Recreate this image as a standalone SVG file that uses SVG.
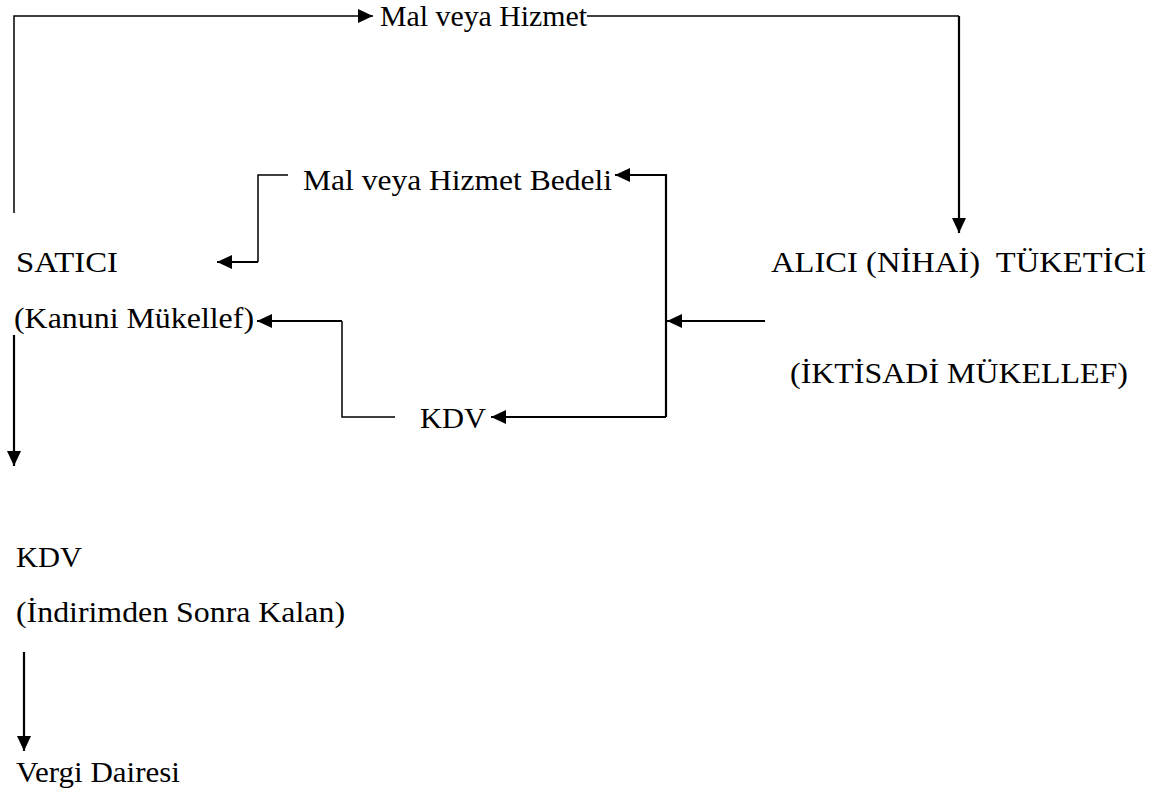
<svg xmlns="http://www.w3.org/2000/svg" width="1162" height="798" viewBox="0 0 1162 798">
<style>
text{font-family:"Liberation Serif","Times New Roman",Times,serif;font-size:30px;fill:#000;white-space:pre}
.l{fill:none;stroke:#000;stroke-width:2.2}
.t{fill:none;stroke:#000;stroke-width:1.5}
</style>
<defs>
<marker id="ah" markerUnits="userSpaceOnUse" markerWidth="17" markerHeight="15" refX="15" refY="7" orient="auto">
<path d="M0,0 L15,7 L0,14 Z" fill="#000"/>
</marker>
</defs>
<rect width="1162" height="798" fill="#fff"/>
<g id="connectors">
<path class="t" d="M14,213 V16 H373" marker-end="url(#ah)"/>
<path class="t" d="M587,16 H959"/>
<path class="l" d="M959,16 V233" marker-end="url(#ah)"/>
<path class="l" d="M765,321 H667" marker-end="url(#ah)"/>
<path class="l" d="M666,417 V175 H615" marker-end="url(#ah)"/>
<path class="l" d="M666,417 H491" marker-end="url(#ah)"/>
<path class="t" d="M288,175 H258 V262"/>
<path class="l" d="M258,262 H217" marker-end="url(#ah)"/>
<path class="t" d="M395,417 H342 V321"/>
<path class="l" d="M342,321 H257" marker-end="url(#ah)"/>
<path class="l" d="M14,335 V466" marker-end="url(#ah)"/>
<path class="l" d="M24,652 V751" marker-end="url(#ah)"/>
</g>
<g id="mal-hizmet"><text x="380" y="26" textLength="207" lengthAdjust="spacingAndGlyphs">Mal veya Hizmet</text></g>
<g id="bedel"><text x="303" y="190" textLength="309" lengthAdjust="spacingAndGlyphs">Mal veya Hizmet Bedeli</text></g>
<g id="satici"><text x="16" y="272" textLength="102" lengthAdjust="spacingAndGlyphs">SATICI</text><text x="14" y="328" textLength="240" lengthAdjust="spacingAndGlyphs">(Kanuni Mükellef)</text></g>
<g id="alici"><text x="771" y="272" textLength="375" lengthAdjust="spacingAndGlyphs">ALICI (NİHAİ)&#160; TÜKETİCİ</text><text x="790" y="383" textLength="338" lengthAdjust="spacingAndGlyphs">(İKTİSADİ MÜKELLEF)</text></g>
<g id="kdv-mid"><text x="420" y="428" textLength="66" lengthAdjust="spacingAndGlyphs">KDV</text></g>
<g id="kdv-left"><text x="16" y="567" textLength="66" lengthAdjust="spacingAndGlyphs">KDV</text><text x="16" y="622" textLength="329" lengthAdjust="spacingAndGlyphs">(İndirimden Sonra Kalan)</text></g>
<g id="vergi"><text x="16" y="782" textLength="164" lengthAdjust="spacingAndGlyphs">Vergi Dairesi</text></g>
</svg>
